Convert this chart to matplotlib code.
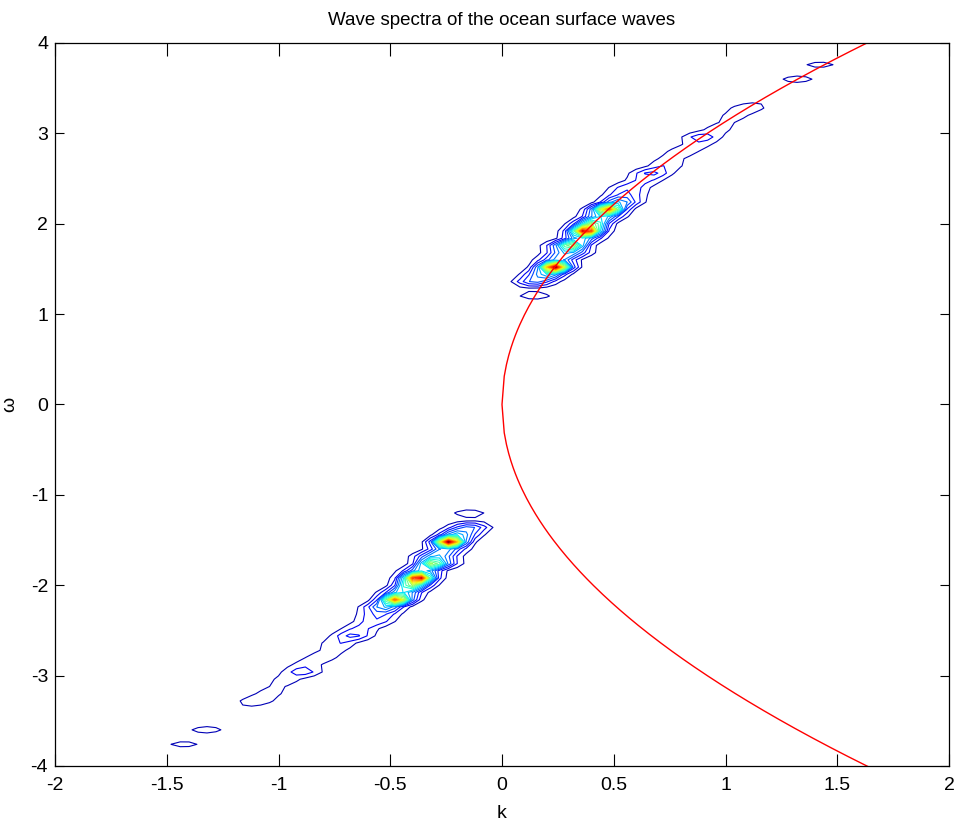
import numpy as np
import matplotlib
matplotlib.use("Agg")
import matplotlib.pyplot as plt

# ---------------- data ----------------
g = 9.8                                   # gravity used for the dispersion curve
curve_k = np.arange(0.0, 2.0001, 0.01)    # k samples of the red dispersion curve

# spectral grid
k_grid = np.linspace(-2, 2, 101)
w_grid = np.linspace(-4, 4, 101)

# ridge of energy along the dispersion curve (upper branch, omega > 0):
# row frequency, amplitude, offset of the ridge from the curve (in k)
ridge_w = [1.20, 1.28, 1.36, 1.44, 1.52, 1.60, 1.68, 1.76, 1.84, 1.92, 2.00,
           2.08, 2.16, 2.24, 2.32, 2.40, 2.48, 2.56, 2.64, 2.72, 2.80, 2.88,
           2.96, 3.04, 3.12, 3.20, 3.28, 3.36, 3.44, 3.52, 3.60, 3.76]
ridge_a = [0.11, 0.03, 0.27, 0.31, 0.30, 0.22, 0.34, 0.30, 0.25, 0.30, 0.24,
           0.30, 0.28, 0.29, 0.20, 0.17, 0.14, 0.21, 0.12, 0.09, 0.11, 0.10,
           0.17, 0.09, 0.07, 0.09, 0.12, 0.05, 0.02, 0.01, 0.11, 0.10]
ridge_dk = [0.00, -0.05, -0.04, -0.02, 0.00, -0.02, 0.01, -0.03, 0.02, 0.00, -0.02,
            0.01, -0.01, 0.02, 0.00, -0.02, 0.01, 0.00, 0.02, 0.00, 0.01, 0.03,
            0.00, 0.02, 0.01, 0.00, 0.00, 0.01, 0.00, 0.00, 0.00, -0.02]
# spectral peaks (upper branch)
peak_w = [1.52, 1.76, 1.92, 2.16, 2.00]
peak_a = [1.00, 0.45, 0.95, 0.78, 0.35]

title = "Wave spectra of the ocean surface waves"
xticks = [-2, -1.5, -1, -0.5, 0, 0.5, 1, 1.5, 2]
yticks = [-4, -3, -2, -1, 0, 1, 2, 3, 4]

# ---------------- field ----------------
K, W = np.meshgrid(k_grid, w_grid)


def branch(Kc, Wc):
    S = np.zeros_like(Kc)
    d = Kc - Wc ** 2 / g
    for w0, a, dk in zip(ridge_w, ridge_a, ridge_dk):
        S += a * np.exp(-((d - dk) / 0.09) ** 2 - ((Wc - w0) / 0.045) ** 2)
    for w0, a in zip(peak_w, peak_a):
        S += a * np.exp(-(d / 0.055) ** 2 - ((Wc - w0) / 0.055) ** 2)
    S[Wc < 0.9] = 0
    return S


S = branch(K, W) + branch(-K, -W)
S = S / S.max()

# ---------------- plot ----------------
plt.rcParams['font.family'] = ['Liberation Sans', 'DejaVu Sans']
plt.rcParams['axes.unicode_minus'] = False
fig = plt.figure(figsize=(9.57, 8.30), dpi=100)
ax = fig.add_axes([55 / 957, 1 - 766 / 830, (949 - 55) / 957, (766 - 43) / 830])

levels = np.linspace(0.05, 0.97, 20)
ax.contour(K, W, S, levels=levels, cmap='jet', vmin=0, vmax=1, linewidths=0.8)

ck = np.concatenate([curve_k[::-1], curve_k])
cw = np.concatenate([-np.sqrt(g * curve_k[::-1]), np.sqrt(g * curve_k)])
ax.plot(ck, cw, color='red', lw=1.0)

ax.set_xlim(-2, 2)
ax.set_ylim(-4, 4)
ax.set_xticks(xticks)
ax.set_xticklabels(['-2', '-1.5', '-1', '-0.5', '0', '0.5', '1', '1.5', '2'])
ax.set_yticks(yticks)
ax.tick_params(axis='x', direction='in', length=9, width=0.8, top=True,
               labelsize=14, pad=8)
ax.tick_params(axis='y', direction='in', length=6.5, width=0.8, right=True,
               labelsize=14, pad=5)
for s in ax.spines.values():
    s.set_linewidth(0.9)
ax.set_title(title, fontsize=13.5, pad=13)
ax.set_xlabel('k', fontsize=14, labelpad=8)
ax.set_ylabel('ω', fontsize=14, labelpad=9)

fig.savefig('out.png', dpi=100)
